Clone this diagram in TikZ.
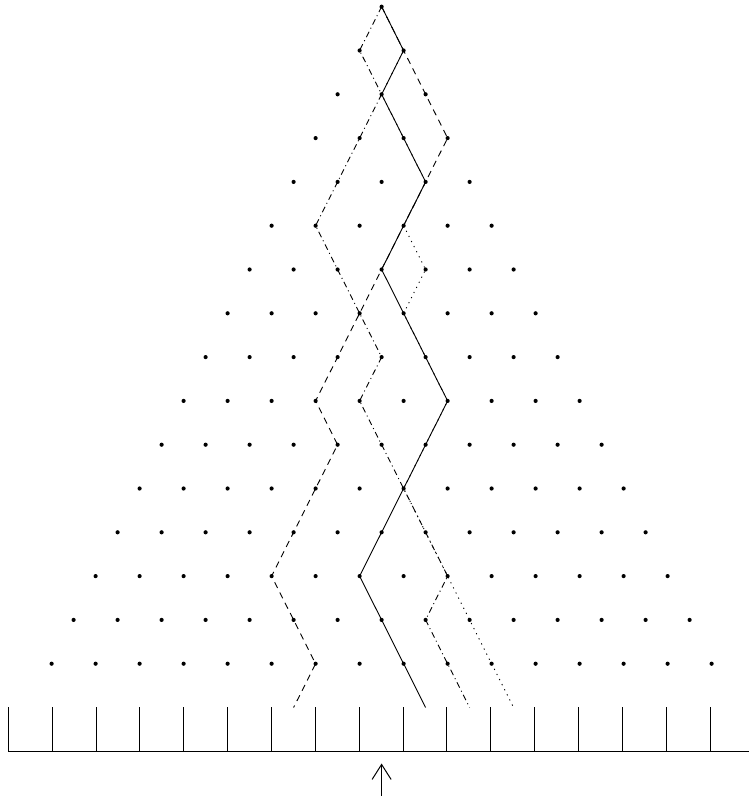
\documentclass[tikz,border=0pt]{standalone}
\usetikzlibrary{arrows.meta}
\begin{document}
\begin{tikzpicture}[x=1pt,y=-1pt,
  peg/.style={circle,fill=black,inner sep=0pt,minimum size=4.2pt},
  track/.style={line width=0.9pt,line join=round},
  trackdash/.style={track,dash pattern=on 6.5pt off 5pt},
  trackdashdot/.style={track,dash pattern=on 6pt off 3.5pt on 1pt off 3.5pt},
  trackdot/.style={track,dash pattern=on 1.2pt off 4.5pt},
  wall/.style={line width=1pt}]
\useasboundingbox (0,0) rectangle (749,797);
% pegs
\foreach \r in {0,...,15}{
  \foreach \i in {0,...,\r}{
    \node[peg] (p-\r-\i) at ({381.6+22*(2*\i-\r)},{6.7+43.8*\r}) {};
  }
}
\foreach \i in {0,...,16}
  \coordinate (p-16-\i) at ({381.6+22*(2*\i-16)},{6.7+43.8*16});
% bins
\foreach \j in {0,...,16}{
  \coordinate (bt-\j) at ({8.3+43.86*\j},707.3);
  \coordinate (bb-\j) at ({8.3+43.86*\j},751.3);
  \draw[wall] (bt-\j) -- (bb-\j);
}
\coordinate (floorend) at (749,751.3);
\draw[wall] (bb-0) -- (floorend);
% dotted path
\draw[trackdot] (p-0-0.center) -- (p-1-1.center) -- (p-2-1.center) -- (p-3-2.center)
  -- (p-4-3.center) -- (p-5-3.center) -- (p-6-4.center) -- (p-7-4.center)
  -- (p-8-5.center) -- (p-9-6.center) -- (p-10-6.center) -- (p-11-6.center)
  -- (p-12-7.center) -- (p-13-8.center) -- (p-14-9.center) -- (p-15-10.center)
  -- (p-16-11);
% dash-dotted path
\draw[trackdashdot] (p-0-0.center) -- (p-1-0.center) -- (p-2-1.center) -- (p-3-1.center)
  -- (p-4-1.center) -- (p-5-1.center) -- (p-6-2.center) -- (p-7-3.center)
  -- (p-8-4.center) -- (p-9-4.center) -- (p-10-5.center) -- (p-11-6.center)
  -- (p-12-7.center) -- (p-13-8.center) -- (p-14-8.center) -- (p-15-9.center)
  -- (p-16-10);
% dashed path
\draw[trackdash] (p-0-0.center) -- (p-1-1.center) -- (p-2-2.center) -- (p-3-3.center)
  -- (p-4-3.center) -- (p-5-3.center) -- (p-6-3.center) -- (p-7-3.center)
  -- (p-8-3.center) -- (p-9-3.center) -- (p-10-4.center) -- (p-11-4.center)
  -- (p-12-4.center) -- (p-13-4.center) -- (p-14-5.center) -- (p-15-6.center)
  -- (p-16-6);
% solid path
\draw[track] (p-0-0.center) -- (p-1-1.center) -- (p-2-1.center) -- (p-3-2.center)
  -- (p-4-3.center) -- (p-5-3.center) -- (p-6-3.center) -- (p-7-4.center)
  -- (p-8-5.center) -- (p-9-6.center) -- (p-10-6.center) -- (p-11-6.center)
  -- (p-12-6.center) -- (p-13-6.center) -- (p-14-7.center) -- (p-15-8.center)
  -- (p-16-9);
% arrow
\coordinate (arrowfoot) at (381.6,795.5);
\coordinate (arrowtip) at (381.6,763.5);
\draw[line width=1pt,-{Straight Barb[length=15pt,width=19pt,line width=1pt]}] (arrowfoot) -- (arrowtip);
\end{tikzpicture}
\end{document}
